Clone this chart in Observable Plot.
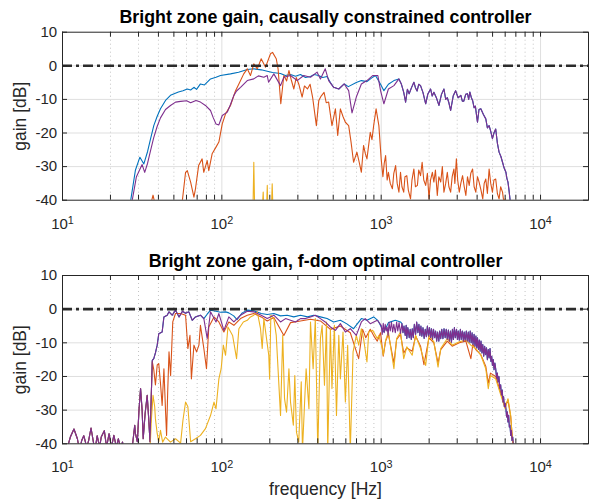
<!DOCTYPE html>
<html><head><meta charset="utf-8">
<script src="https://cdn.jsdelivr.net/npm/d3@7"></script>
<script src="https://cdn.jsdelivr.net/npm/@observablehq/plot@0.6"></script>
<style>
body{margin:0;background:#fff;font-family:"Liberation Sans",Arial,Helvetica,sans-serif}
#chart{width:593px;height:501px}
#chart svg{display:block}
</style></head><body><div id="chart"></div>
<script>
// ---------- tick values ----------
const xMajor = [10, 100, 1000, 10000];
const xMinor = [20,30,40,50,60,70,80,90,200,300,400,500,600,700,800,900,2000,3000,4000,5000,6000,7000,8000,9000];
const yTicks = [-40, -30, -20, -10, 0, 10];
const yGrid = [-30, -20, -10, 0];
const titles = ["Bright zone gain, causally constrained controller", "Bright zone gain, f-dom optimal controller"];
const seriesColors = ["#0072BD", "#D95319", "#EDB120", "#7E2F8E"];

// ---------- top panel (causally constrained) : [frequency Hz, gain dB] ----------
const topBlueLow = [[24.5,-45],[26.7,-40.5],[28.7,-31],[30.6,-27.2],[32.4,-29.2],[34.2,-25.5],[35.6,-22],[37.4,-17.8],[39.3,-15],[41.2,-12.8],[44.3,-10.3],[47.6,-8.8],[53.4,-7.8],[57,-7.4],[60.7,-6.9],[63.7,-7.2],[66.8,-6.4],[69.4,-7.0],[73.4,-5.4],[77.8,-5.7],[84.9,-3.9],[91.9,-3.4],[98.1,-2.9],[113.3,-2.4],[127.4,-1.9],[144.4,-1.1],[158.7,-0.9],[176.6,-1.2],[192.7,-1.6],[208,-2.0],[233.5,-2.3],[250,-2.9],[269.8,-2.6],[290,-3.1],[311.5,-2.6],[335,-3.5],[360,-3.2],[380,-2.6],[404,-2.9],[430,-3.5],[457.5,-3.2],[480,-5.0],[503,-6.4],[542,-6.9],[586,-5.4],[622,-6.2],[698,-5.0],[751,-4.4],[814,-4.7],[873,-3.6],[921,-2.9],[991,-5.5],[1040,-7.4],[1110,-5.5],[1202,-4.4],[1292,-3.9]];
const topOrange = [[35,-46],[36.1,-40.5],[37,-38.5],[37.8,-40.5],[40,-46],[55,-46],[56.4,-40.5],[59.2,-31.7],[60.7,-31.2],[63.7,-34.6],[66.8,-39.1],[68.3,-36.6],[71.5,-29.7],[75.2,-27.7],[77,-31.7],[80.9,-28.2],[82.8,-31.2],[86.9,-26.2],[91.9,-24.2],[95.8,-22.7],[100.6,-17.3],[105.5,-14.3],[113.3,-11.8],[121.9,-7.4],[127.9,-5.4],[137.2,-2.4],[144.4,-0.9],[151.2,-2.9],[158.7,0.6],[166.9,-0.9],[176.6,2.1],[188,-0.4],[202,3.6],[208,4.0],[219.5,2.1],[225.4,-0.9],[234.4,-11.3],[244.9,-2.9],[255,-4.5],[263.6,-1.4],[272,-4],[283,-6.9],[293,-3.5],[303.8,-5.4],[319,-9.3],[330,-6],[344.5,-6.9],[358,-5.5],[371,-9.3],[392,-17.8],[406,-10.3],[420,-9],[438,-7.9],[452,-11],[468,-10.8],[491,-17.8],[516,-12.8],[533.6,-20.7],[554.6,-12.8],[575,-15],[596,-16.8],[625,-17.8],[647,-22.7],[671,-28.7],[704,-25.7],[730,-29],[751,-31.7],[775,-23.7],[794,-26],[814,-27.7],[854,-19.8],[875,-22],[897,-17.8],[929,-12.8],[967,-17.8],[1000,-27.7],[1025,-33],[1045,-29],[1066,-26.7],[1090,-34],[1110,-31.7],[1140,-35],[1176,-36.6],[1200,-32],[1232,-29.7],[1260,-35],[1292,-37.6],[1322,-31.7],[1350,-36],[1385,-37.6],[1410,-33],[1448,-32.7],[1480,-37],[1528,-39.6],[1560,-34],[1604,-30.7],[1640,-36],[1688,-35.6],[1720,-31],[1766,-32.7],[1807,-28.7],[1850,-34],[1902,-35.6],[1950,-32],[1995,-39.6],[2040,-34],[2095,-31.7],[2141,-34.6],[2190,-31],[2250,-38.6],[2300,-33],[2364,-34.6],[2420,-30],[2476,-37.6],[2540,-35],[2600,-31.7],[2660,-36],[2728,-37.6],[2790,-33],[2861,-30.7],[2900,-35],[2964,-27.7],[3020,-34],[3091,-37.6],[3160,-35],[3241,-32.7],[3320,-36],[3399,-38.6],[3480,-33],[3567,-35.6],[3650,-32],[3747,-30.7],[3830,-36],[3924,-37.6],[4020,-33],[4116,-34.6],[4230,-37],[4339,-39.6],[4430,-35],[4534,-33.7],[4640,-38],[4757,-30.7],[4870,-35],[4990,-37.6],[5100,-34],[5232,-33.7],[5360,-38],[5493,-39.6],[5620,-36],[5774,-37.6],[5880,-40.5],[6000,-39.6],[6220,-46]];
const topYellow = [[10,-60],[150,-60],[156.5,-45],[158.7,-28.7],[161,-45],[178,-45],[181.8,-37.6],[184,-45],[190,-45],[192.8,-35.6],[195,-45],[204,-45],[207,-35.1],[210,-45],[240,-60],[20000,-60]];
const topPurple = [[25.2,-45],[27.4,-40],[29.1,-33],[31.6,-29.4],[32.8,-31.7],[34.2,-29],[35.6,-25.5],[37.3,-21.5],[39.3,-18],[41.2,-15.5],[44.3,-13],[47.6,-11.8],[51.2,-10.8],[55.1,-10.6],[60.1,-10.4],[63.7,-11.0],[68.8,-10.3],[73.4,-10.8],[78.9,-11.8],[84.9,-13.3],[88.4,-15.5],[91.9,-17.3],[95.8,-17.6],[100.6,-14.8],[108.1,-13.8],[113.3,-11.5],[119,-8.8],[123.7,-7.5],[131,-6.4],[144.4,-4.4],[158.7,-3.9],[169.6,-3.0],[183.5,-3.4],[192.7,-2.9],[196.5,-4.9],[212,-2.4],[233.5,-5.9],[244.9,-3.4],[269.8,-2.9],[297,-4.4],[326.7,-2.9],[360,-3.4],[396,-1.9],[415.6,-3.9],[445.7,-0.9],[468,-4.4],[503,-6.4],[542,-6.9],[586,-5.4],[625,-7.4],[656,-14],[698,-9.3],[751,-5.4],[814,-4.4],[884,-2.9],[953,-2.9],[991,-7.4],[1040,-11.3],[1110,-6.9],[1202,-5.9],[1292,-3.9],[1340,-5.5],[1385,-7.9],[1423,-10.8],[1460,-7],[1498,-8.3],[1550,-6.5],[1604,-4.9],[1640,-6.5],[1680,-7.5],[1720,-5.5],[1766,-5.9],[1830,-8],[1902,-11.3],[1960,-8.5],[2041,-6.9],[2090,-9],[2141,-7.9],[2220,-9.5],[2304,-11.8],[2390,-8.5],[2476,-6.9],[2540,-10],[2600,-9.5],[2660,-11],[2728,-13.3],[2830,-9],[2931,-7.4],[3040,-9.5],[3162,-8.8],[3230,-10.5],[3300,-10.5],[3390,-8.5],[3478,-8.3],[3540,-10],[3600,-7.8],[3680,-9.5],[3747,-10.3],[3830,-12.5],[3900,-12],[3960,-14.5],[4021,-16.8],[4110,-13],[4220,-12.8],[4380,-14.5],[4534,-15.8],[4640,-18.5],[4757,-17.8],[4870,-19.5],[4990,-21.7],[5100,-20],[5232,-18.8],[5360,-23],[5493,-25.7],[5640,-27],[5774,-28.7],[5920,-30.5],[6065,-31.7],[6150,-33.5],[6247,-34.6],[6340,-37],[6430,-39.6],[6588,-45]];
// blue is hidden under purple above ~1.3 kHz
const topBlue = [...topBlueLow, ...topPurple.filter(d => d[0] > 1292)];

// ---------- bottom panel (f-dom optimal) ----------
const bottomLow = [[10.6,-42],[11.2,-38],[11.8,-35.6],[12.4,-38.5],[12.8,-42],[13.2,-39],[13.6,-37.6],[14.2,-41],[14.6,-39],[15.1,-35.3],[15.7,-40],[16.1,-41],[16.5,-37.6],[17.1,-41],[17.5,-38],[18.3,-36.1],[18.9,-41],[19.6,-37],[20.3,-41],[21,-37.5],[21.8,-41],[22.4,-38.5],[23.1,-41],[23.8,-39.5],[24.5,-42],[26.5,-48],[27.4,-41],[28.4,-34.5],[28.7,-37],[29.5,-39.4],[30.2,-30],[30.9,-23.6],[31.6,-30],[32.1,-38.5],[33,-31],[34,-25.6],[34.7,-32],[35.4,-39.4]];
const bottomPurpleMid = [[36,-27],[36.6,-15.2],[37.4,-14.7],[38.3,-13],[39.3,-10.7],[40.2,-7.3],[42.2,-6.8],[43.3,-2.3],[45.4,-1.8],[46.6,-0.8],[48.8,-1.8],[51.2,-0.3],[53.9,-2.3],[56.6,-0.6],[59.2,-1.2],[62.1,-0.8],[65.2,-3.3],[68.3,-2.3],[73.4,-1.8],[77.1,-2.8]];
const bottomPurpleHigh = [[80.9,-8.7],[84.9,-0.8],[91.9,-3.8],[95.8,-1.3],[103,-6.3],[110.6,-2.3],[119,-3.8],[131,-1.8],[144.4,-0.6],[158.7,-0.8],[176.6,-1.8],[192.7,-2.8],[212,-1.8],[233.5,-3.8],[251,-2.8],[269.8,-3.3],[290,-3.8],[311.5,-2.8],[335,-2.8],[360,-2.3],[386,-1.8],[415.6,-2.8],[445.7,-3.8],[480,-5.3],[516,-6.3],[554.6,-4.3],[596,-6.8],[640,-5.8],[698,-7.8],[751,-3.8],[794,-2.8],[854,-4.3],[945,-3.3],[1000,-4.8],[1015,-7.5],[1030,-4.2],[1045,-7.0],[1060,-4.5],[1075,-6.5],[1090,-5.3],[1105,-7.8],[1120,-4.0],[1140,-6.5],[1160,-3.8],[1180,-6.8],[1200,-4.5],[1226,-7.0],[1250,-3.8],[1270,-6.5],[1295,-4.0],[1322,-7.2],[1350,-4.3],[1370,-7.0],[1390,-5.0],[1415,-7.8],[1435,-4.8],[1448,-8.7],[1470,-5.5],[1500,-8.5],[1520,-6.0],[1545,-9.0],[1566,-5.8],[1590,-8.5],[1615,-4.5],[1644,-7.5],[1670,-3.8],[1700,-7.0],[1725,-4.5],[1750,-7.8],[1775,-5.0],[1800,-8.0],[1830,-5.5],[1860,-8.7],[1890,-6.0],[1920,-8.2],[1950,-5.0],[1980,-8.0],[2010,-5.5],[2041,-8.5],[2070,-5.8],[2100,-9.0],[2130,-6.0],[2165,-8.5],[2195,-6.5],[2230,-9.5],[2260,-6.8],[2300,-9.5],[2330,-6.5],[2364,-8.8],[2400,-6.0],[2440,-8.8],[2480,-5.8],[2520,-8.5],[2560,-6.0],[2600,-9.0],[2640,-6.2],[2680,-9.5],[2720,-6.5],[2760,-9.8],[2800,-6.0],[2840,-9.0],[2880,-5.5],[2920,-8.5],[2970,-6.0],[3010,-9.0],[3050,-6.5],[3091,-9.2],[3140,-6.0],[3180,-9.0],[3230,-6.5],[3280,-9.5],[3318,-6.8],[3370,-9.3],[3420,-6.5],[3470,-9.5],[3520,-6.8],[3567,-9.8],[3620,-6.5],[3670,-10.0],[3720,-7.0],[3770,-10.5],[3828,-7.5],[3880,-11.0],[3930,-8.0],[3980,-11.5],[4021,-8.5],[4080,-12.0],[4130,-9.2],[4180,-12.5],[4230,-9.5],[4290,-13.0],[4340,-10.5],[4400,-14.0],[4460,-11.0],[4520,-13.5],[4580,-11.5],[4640,-15.0],[4700,-12.0],[4760,-14.5],[4819,-11.7],[4880,-15.5],[4940,-14.0],[4990,-16.7],[5050,-15.0],[5110,-18.0],[5170,-16.0],[5232,-17.7],[5300,-20.5],[5360,-19.0],[5413,-21.6],[5480,-20.0],[5550,-23.5],[5620,-22.5],[5680,-25.5],[5750,-24.0],[5810,-27.6],[5864,-26.0],[5930,-29.0],[6000,-28.0],[6065,-29.6],[6120,-32.0],[6190,-30.5],[6247,-33.5],[6310,-31.5],[6370,-35.0],[6430,-34.5],[6500,-37.5],[6560,-36.0],[6620,-39.0],[6690,-38.0],[6752,-40.5],[6880,-44]];
const bottomBlueHigh = [[80.9,-1.5],[84.9,-0.3],[91.9,-0.6],[98.1,-0.9],[105.5,-0.8],[110.6,-1.1],[118.7,-2.0],[124.5,-3.1],[134.3,-1.1],[144.4,-0.3],[158.7,-0.5],[176.6,-1.3],[192.7,-1.6],[212,-1.3],[233.5,-2.0],[257,-1.8],[283,-2.3],[311.5,-1.8],[344.5,-2.3],[377.6,-1.8],[415.6,-2.3],[457.5,-2.8],[503,-3.8],[554.6,-3.3],[606,-4.3],[671,-5.8],[751,-2.8],[814,-3.3],[897,-2.3],[958,-3.5],[1040,-6.8],[1110,-4.0],[1226,-3.3],[1322,-3.8]];
const bottomOrangeHigh = [[36,-27],[36.6,-15.6],[37.4,-18],[38.3,-22.5],[39.3,-16.6],[40.2,-16.2],[41.2,-22],[42.2,-28.6],[43.3,-17.7],[44.3,-30],[45,-37.5],[45.7,-25],[46.6,-12.7],[47.7,-19.7],[49.2,-3.8],[51.2,-1.3],[55.1,-1.3],[59.2,-1.8],[61.2,-11.7],[63.1,-7.8],[64.4,-20.7],[66.8,-10.7],[69.4,-12.7],[71.8,-10.7],[73.4,-4.8],[77.1,-11.7],[80.1,-17.7],[82.8,-5.3],[89.3,-2.3],[95.8,-3.8],[103,-6.8],[110.6,-3.8],[119,-4.8],[131,-2.8],[144.4,-1.8],[158.7,-1.3],[176.6,-2.3],[192.7,-3.5],[212,-2.5],[244.9,-7.8],[269.8,-4],[311.5,-3.5],[360,-3],[415.6,-3.5],[480,-6],[554.6,-5],[640,-7],[722,-14.7],[765,-6],[800,-8.5],[854,-6],[900,-8],[945,-9.5],[991,-7],[1030,-14],[1066,-9.5],[1110,-7.5],[1202,-16],[1250,-9],[1322,-7.5],[1385,-13],[1448,-11.5],[1566,-12.5],[1644,-8],[1766,-11],[1855,-16.5],[1995,-8.5],[2141,-10],[2274,-16],[2364,-12],[2600,-9.5],[2790,-11],[3091,-10],[3399,-9.5],[3655,-14.7],[3760,-10.5],[3924,-12],[4220,-13.5],[4534,-17],[4700,-22],[4850,-19],[5232,-20],[5639,-25],[6000,-29],[6247,-27],[6500,-32],[6650,-38],[6800,-42]];
const bottomYellow = [[10,-60],[34,-55],[35.4,-42],[36.1,-33],[37,-25.6],[37.9,-29],[38.3,-32.6],[39.3,-37],[40.2,-39.4],[41.2,-36],[42.5,-39.5],[44.3,-38],[47.6,-39.5],[51.2,-38.5],[55.1,-39.8],[57,-33],[59.2,-27.6],[61.2,-29],[63.7,-39.4],[68.3,-38.5],[73.4,-37.5],[78.9,-35.5],[84.9,-31.6],[89.3,-27.6],[91.9,-29.6],[95.8,-20.7],[99,-17.7],[102.2,-10.7],[105.5,-13.7],[109.2,-5.3],[116.8,-7.8],[123.7,-14.7],[127.9,-5.8],[136.4,-3.8],[144.4,-3.3],[151.2,-2.3],[158.7,-1.8],[166.9,-0.8],[174.9,-5.8],[179.2,-11.7],[183.5,-2.8],[197,-13.7],[199.5,-20.7],[203,-1.8],[212,-2.8],[219.5,-7.8],[233.5,-31.6],[241,-7.8],[247.4,-26.6],[254.7,-30.6],[263.6,-17.7],[269.8,-27.6],[281,-34.5],[287,-19.7],[294,-36.5],[303.8,-39.5],[315,-21.6],[320.6,-42],[330,-28.6],[338,-17.7],[352,-29.6],[360,-3.8],[374,-17.7],[386,-2.8],[400,-42],[415.6,-8.7],[426,-4.8],[440.6,-22.6],[453.7,-3.8],[461.8,-42],[480,-5.8],[491,-23.6],[508.5,-4.8],[524,-31.6],[542,-7.8],[554.6,-20.7],[576,-6.8],[596,-27.6],[616,-10.7],[640,-42],[666,-12.7],[698,-7.8],[723,-10.7],[751,-5.8],[775,-8.7],[814,-15.7],[835,-6.8],[884,-6.3],[945,-8.7],[967,-7.8],[1017,-11.7],[1030,-13.7],[1066,-9.2],[1110,-6.8],[1202,-17.7],[1250,-8.7],[1322,-6.8],[1385,-14.7],[1448,-11.2],[1566,-13.7],[1644,-7.8],[1766,-11.7],[1902,-16.7],[1995,-7.8],[2141,-9.7],[2274,-17.2],[2364,-11.7],[2600,-8.7],[2790,-10.7],[3091,-9.7],[3399,-9.2],[3655,-10.7],[3924,-11.7],[4220,-13.7],[4534,-17.7],[4700,-23.6],[4850,-19.7],[5232,-20.7],[5639,-25.6],[6000,-29.6],[6247,-26.6],[6500,-31.6],[6650,-38.5],[6800,-42]];

// blue and purple coincide outside the visible stretches
const bottomBlue = [...bottomLow, ...bottomPurpleMid, ...bottomBlueHigh, ...bottomPurpleHigh.filter(d => d[0] > 1322)];
const bottomOrange = [...bottomLow, ...bottomOrangeHigh];
const bottomPurple = [...bottomLow, ...bottomPurpleMid, ...bottomPurpleHigh];

// ---------- drawing ----------
const W = 593, ML = 62, MR = 5;
const axisColor = "#262626";

function panel({title, series, height, marginTop, marginBottom, titleDy, xLabel}) {
  const frameH = height - marginTop - marginBottom;
  const frameW = W - ML - MR;
  const xAll = [...xMajor, ...xMinor];
  const marks = [
    Plot.ruleX(xMinor, {stroke: "#c4c4c4", strokeWidth: 1, strokeDasharray: "1,3"}),
    Plot.ruleX(xMajor, {stroke: "#dfdfdf", strokeWidth: 1}),
    Plot.ruleY(yGrid, {stroke: "#dfdfdf", strokeWidth: 1}),
    ...series.map((s, i) => Plot.line(s, {x: d => d[0], y: d => d[1], stroke: seriesColors[i], strokeWidth: 1.1, clip: true})),
    Plot.ruleY([0], {stroke: "#2b2b2b", strokeWidth: 2.6, strokeDasharray: "10,4,3,4"}),
    Plot.tickX(xAll, {stroke: axisColor, insetTop: frameH - 5}),
    Plot.tickX(xAll, {stroke: axisColor, insetBottom: frameH - 5}),
    Plot.tickY(yTicks, {stroke: axisColor, insetRight: frameW - 5}),
    Plot.tickY(yTicks, {stroke: axisColor, insetLeft: frameW - 5}),
    Plot.frame({stroke: axisColor, strokeWidth: 1}),
    Plot.axisX(xMajor, {tickSize: 0, tickPadding: 18, label: null, fill: axisColor, tickFormat: d => "10^" + Math.round(Math.log10(d))}),
    Plot.axisY(yTicks, {tickSize: 0, tickPadding: 5.3, label: null, fill: axisColor, tickFormat: d => String(d)}),
    Plot.text([title], {text: d => d, frameAnchor: "top", lineAnchor: "top", dy: titleDy, fontSize: 17.8, fontWeight: "bold", fill: "#000"}),
    Plot.text(["gain [dB]"], {text: d => d, frameAnchor: "left", textAnchor: "middle", lineAnchor: "middle", dx: -42, rotate: -90, fontSize: 17.5, fill: axisColor})
  ];
  if (xLabel) marks.push(Plot.text([xLabel], {text: d => d, frameAnchor: "bottom", lineAnchor: "bottom", dy: 51, fontSize: 17.5, fill: axisColor}));
  const svg = Plot.plot({
    width: W, height, marginLeft: ML, marginRight: MR, marginTop, marginBottom,
    x: {type: "log", domain: [10, 20000]},
    y: {domain: [-40, 10]},
    style: {fontFamily: "'Liberation Sans', Arial, Helvetica, sans-serif", fontSize: "15px", color: axisColor, background: "white", overflow: "visible"},
    marks
  });
  svg.querySelectorAll('g[aria-label="x-axis tick label"] text').forEach(t => {
    const parts = t.textContent.split("^");
    if (parts.length !== 2) return;
    t.textContent = parts[0];
    const ts = document.createElementNS("http://www.w3.org/2000/svg", "tspan");
    ts.setAttribute("dy", "-0.45em");
    ts.setAttribute("font-size", "0.72em");
    ts.textContent = parts[1];
    t.appendChild(ts);
  });
  return svg;
}

const chart = document.getElementById("chart");
chart.appendChild(panel({title: titles[0], series: [topBlue, topOrange, topYellow, topPurple], height: 250, marginTop: 31.7, marginBottom: 50.3, titleDy: -21.6}));
chart.appendChild(panel({title: titles[1], series: [bottomBlue, bottomOrange, bottomYellow, bottomPurple], height: 251, marginTop: 25, marginBottom: 57.7, titleDy: -20.9, xLabel: "frequency [Hz]"}));
</script>
</body></html>
